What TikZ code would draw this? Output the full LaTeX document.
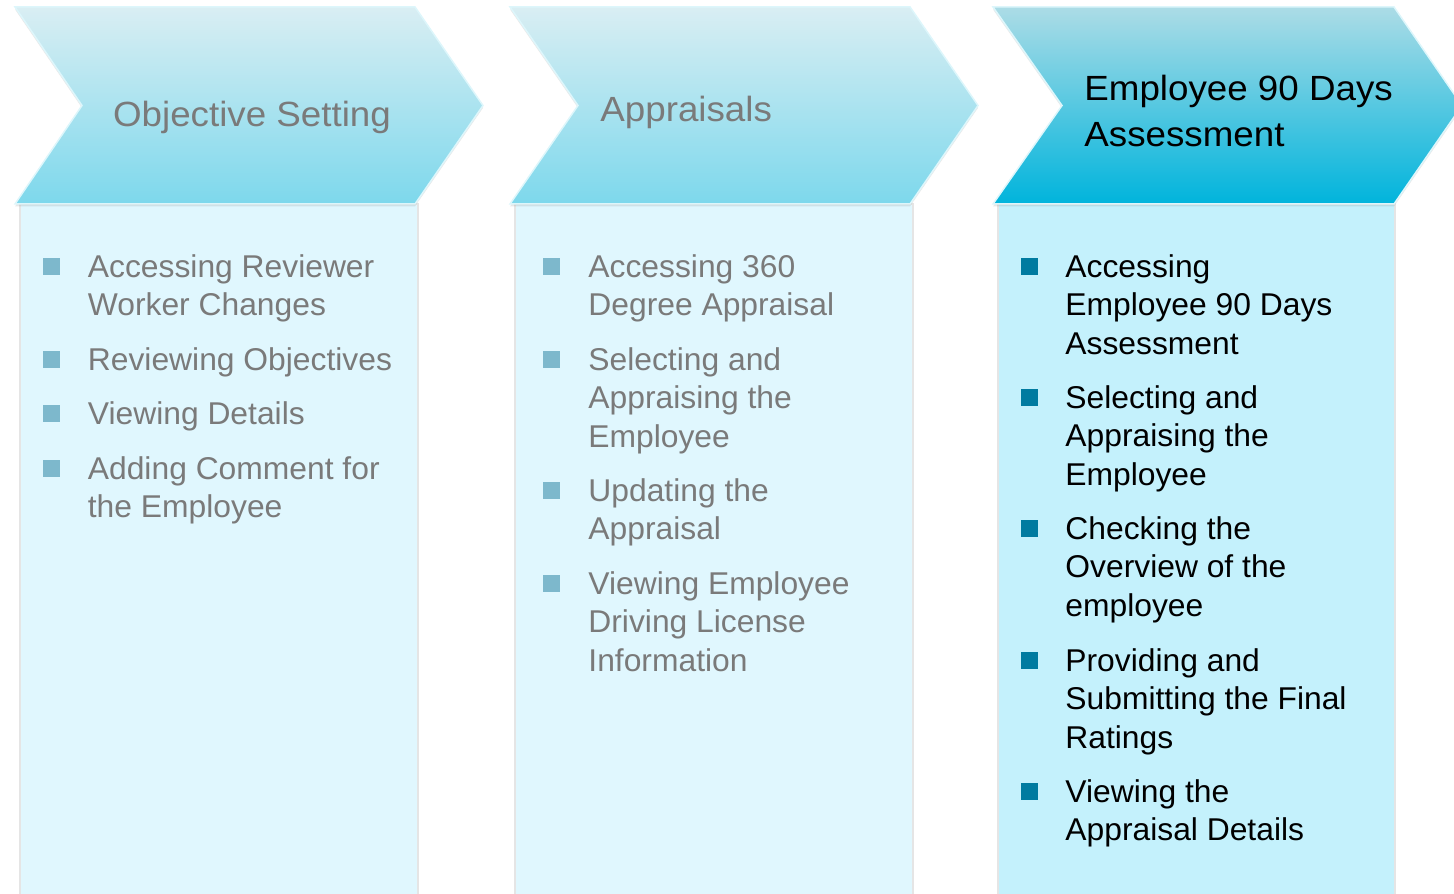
\documentclass[tikz,border=0pt]{standalone}
\usepackage{fontspec}
\setmainfont{Liberation Sans}[FakeStretch=1.01]
\newfontfamily\headfont{Liberation Sans}[FakeStretch=1.05]
\usetikzlibrary{shadows}

\definecolor{chevtop}{HTML}{D9EEF3}
\definecolor{chevbot}{HTML}{7DD8EC}
\definecolor{acttop}{HTML}{ACDCE6}
\definecolor{actbot}{HTML}{00B4DC}
\definecolor{panelfill}{HTML}{E0F7FE}
\definecolor{panelact}{HTML}{C4F1FC}
\definecolor{sqlight}{HTML}{7DB8CC}
\definecolor{sqdark}{HTML}{007BA0}
\definecolor{greytext}{HTML}{7A7A7A}
\definecolor{chevedge}{HTML}{DDF6FB}

\begin{document}
\begin{tikzpicture}[
    x=0.5pt, y=-0.5pt,
    chev/.style={draw=chevedge, line width=0.75pt, top color=chevtop, bottom color=chevbot, drop shadow={shadow xshift=0pt, shadow yshift=-1.2pt, opacity=0.18}},
    actchev/.style={chev, top color=acttop, bottom color=actbot},
    panel/.style={draw=black!10, line width=1pt, fill=panelfill},
    actpanel/.style={panel, fill=panelact},
    head/.style={font=\headfont\fontsize{17.5}{23}\selectfont, text=greytext, inner sep=0pt},
    item/.style={anchor=north west, align=left, inner sep=0pt, font=\fontsize{15.75}{19.25}\selectfont, text=greytext},
    actitem/.style={item, text=black},
    sq/.style={rectangle, minimum size=8.5pt, inner sep=0pt, fill=sqlight},
    actsq/.style={sq, fill=sqdark}
]
\useasboundingbox (0,0) rectangle (1454,893);

% Panels
\path[panel] (20,204) rectangle (418,910);
\path[panel] (515,204) rectangle (913,910);
\path[actpanel] (998,204) rectangle (1395,910);

% Chevrons
\path[chev] (15,7) -- (415,7) -- (483,105.5) -- (415,204) -- (15,204) -- (82,105.5) -- cycle;
\path[chev] (510,7) -- (910,7) -- (978,105.5) -- (910,204) -- (510,204) -- (578,105.5) -- cycle;
\path[actchev] (993,7) -- (1394,7) -- (1462,105.5) -- (1394,204) -- (993,204) -- (1062,105.5) -- cycle;

% Headings
\node[head, anchor=base] (oshead) at (252,127) {Objective Setting};
\node[head, anchor=base west] (aphead) at (600,122) {Appraisals};
\node[head, anchor=north west, align=left, text=black] (emhead) at (1084,75) {Employee 90 Days\\Assessment};

% Objective Setting
\node[sq] (osb1) at (51.5,266) {};
\node[item] (os1) at (87.5,254) {Accessing Reviewer\\Worker Changes};
\node[sq] (osb2) at (51.5,359) {};
\node[item] (os2) at (87.5,347) {Reviewing Objectives};
\node[sq] (osb3) at (51.5,413) {};
\node[item] (os3) at (87.5,401) {Viewing Details};
\node[sq] (osb4) at (51.5,468) {};
\node[item] (os4) at (87.5,456) {Adding Comment for\\the Employee};

% Appraisals
\node[sq] (apb1) at (551.5,266) {};
\node[item] (ap1) at (588,254) {Accessing 360\\Degree Appraisal};
\node[sq] (apb2) at (551.5,359) {};
\node[item] (ap2) at (588,347) {Selecting and\\Appraising the\\Employee};
\node[sq] (apb3) at (551.5,490) {};
\node[item] (ap3) at (588,478) {Updating the\\Appraisal};
\node[sq] (apb4) at (551.5,583) {};
\node[item] (ap4) at (588,571) {Viewing Employee\\Driving License\\Information};

% Employee 90 Days Assessment
\node[actsq] (emb1) at (1029.5,266) {};
\node[actitem] (em1) at (1065,254) {Accessing\\Employee 90 Days\\Assessment};
\node[actsq] (emb2) at (1029.5,397) {};
\node[actitem] (em2) at (1065,385) {Selecting and\\Appraising the\\Employee};
\node[actsq] (emb3) at (1029.5,528) {};
\node[actitem] (em3) at (1065,516) {Checking the\\Overview of the\\employee};
\node[actsq] (emb4) at (1029.5,660) {};
\node[actitem] (em4) at (1065,648) {Providing and\\Submitting the Final\\Ratings};
\node[actsq] (emb5) at (1029.5,791) {};
\node[actitem] (em5) at (1065,779) {Viewing the\\Appraisal Details};

\end{tikzpicture}
\end{document}
